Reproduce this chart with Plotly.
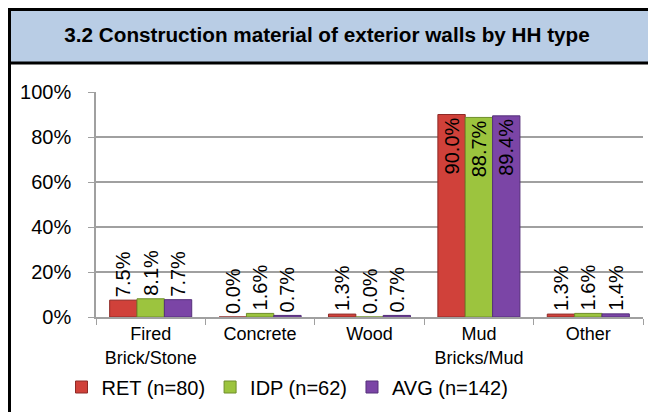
import plotly.graph_objects as go

categories = ["Fired<br>Brick/Stone", "Concrete", "Wood", "Mud<br>Bricks/Mud", "Other"]
series_names = ["RET (n=80)", "IDP (n=62)", "AVG (n=142)"]
ret_values = [0.075, 0.0, 0.013, 0.900, 0.013]
idp_values = [0.081, 0.016, 0.0, 0.887, 0.016]
avg_values = [0.077, 0.007, 0.007, 0.894, 0.014]
y_ticks = [0, 0.2, 0.4, 0.6, 0.8, 1.0]
title_text = "3.2 Construction material of exterior walls by HH type"

W, H = 648, 404
L, R, T, B = 88, 13, 84, 95
PW, PH = W - L - R, H - T - B

def px(x):
    return (x - L) / PW

def py(y):
    return (H - B - y) / PH

colors = ["#D0413A", "#9CC43E", "#7B45A6"]
edges = ["#8E2A26", "#6E8E2A", "#55307A"]
all_values = [ret_values, idp_values, avg_values]

fig = go.Figure()
for name, vals, c, e in zip(series_names, all_values, colors, edges):
    fig.add_trace(go.Bar(
        x=categories, y=vals, name=name,
        marker=dict(color=c, line=dict(color=e, width=1)),
        text=[f"{v*100:.1f}%" for v in vals],
        textposition=["inside" if v > 0.5 else "outside" for v in vals],
        insidetextanchor="end",
        textangle=-90,
        textfont=dict(family="Liberation Sans, Arial", size=20, color="black"),
        constraintext="none",
        cliponaxis=False,
    ))

fig.update_layout(
    width=W, height=H, autosize=False,
    margin=dict(l=L, r=R, t=T, b=B, autoexpand=False),
    paper_bgcolor="white", plot_bgcolor="white",
    barmode="group", bargap=0.25, bargroupgap=0,
    font=dict(family="Liberation Sans, Arial", color="black"),
    title=dict(text="<b>" + title_text + "</b>", x=319 / W, xanchor="center",
               y=1 - 27 / H, yanchor="middle", xref="container", yref="container",
               font=dict(size=20.7, color="black")),
    legend=dict(orientation="h", xref="container", yref="container",
                x=53.5 / W, xanchor="left", y=1 - 379 / H, yanchor="middle",
                font=dict(size=20),
                bgcolor="rgba(0,0,0,0)", itemclick=False),
    showlegend=True,
)
fig.update_xaxes(
    showline=True, linecolor="#A0A0A0", linewidth=1.5,
    ticks="outside", tickson="boundaries", ticklen=6, tickcolor="#A0A0A0",
    tickfont=dict(size=18), showgrid=False,
)
fig.update_yaxes(
    range=[0, 1], tickvals=y_ticks, tickformat=".0%",
    showline=True, linecolor="#A0A0A0", linewidth=1.5,
    ticks="outside", ticklen=6, tickcolor="#A0A0A0",
    gridcolor="#A0A0A0", gridwidth=1.5,
    tickfont=dict(size=20), ticklabelstandoff=13, zeroline=False,
)

fig.add_shape(type="rect", xref="paper", yref="paper",
              x0=px(1.5), x1=px(646.5), y0=py(55), y1=py(1.5),
              fillcolor="#B9CDE5", line=dict(color="black", width=3), layer="below")
fig.add_shape(type="rect", xref="paper", yref="paper",
              x0=px(1.5), x1=px(646.5), y0=py(430), y1=py(1.5),
              fillcolor="rgba(0,0,0,0)", line=dict(color="black", width=3), layer="above")

fig.write_html("out.html")
